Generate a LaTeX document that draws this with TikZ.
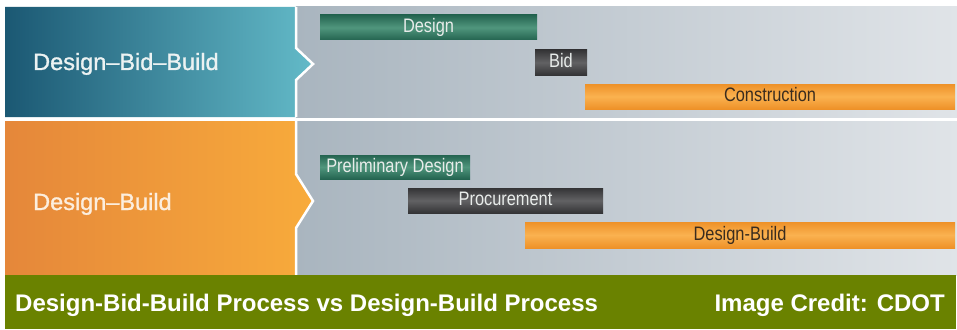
\documentclass[tikz,border=0pt]{standalone}
\usepackage{fontspec}
\setmainfont{Liberation Sans}
\newfontfamily\barfont[FakeStretch=0.84]{Liberation Sans}
\newfontfamily\methodfont[FakeBold=1.2]{Liberation Sans}
\usepackage{tikz}

\definecolor{tealL}{RGB}{27,88,115}
\definecolor{tealR}{RGB}{99,186,200}
\definecolor{orangeL}{RGB}{229,135,58}
\definecolor{orangeR}{RGB}{248,171,59}
\definecolor{panelL}{RGB}{169,181,191}
\definecolor{panelR}{RGB}{224,228,232}
\definecolor{footgreen}{RGB}{106,130,0}
\definecolor{barGreen}{RGB}{36,100,80}
\definecolor{barGreenM}{RGB}{80,150,125}
\definecolor{barGray}{RGB}{52,52,54}
\definecolor{barGrayM}{RGB}{98,98,100}
\definecolor{barOrange}{RGB}{238,145,40}
\definecolor{barOrangeM}{RGB}{250,178,80}
\definecolor{labelTop}{RGB}{236,242,242}
\definecolor{labelBot}{RGB}{252,238,222}
\definecolor{barText}{RGB}{232,236,234}
\definecolor{barTextD}{RGB}{58,44,30}

\begin{document}
\begin{tikzpicture}[x=1pt,y=1pt,yscale=-1,xscale=1,
  bar/.style={inner sep=0pt, minimum height=25pt, text height=14pt, text depth=4pt,
    font=\barfont\fontsize{19.5}{19.5}\selectfont},
  greenbar/.style={bar, top color=barGreen, bottom color=barGreen, middle color=barGreenM, text=barText},
  graybar/.style={bar, top color=barGray, bottom color=barGray, middle color=barGrayM, text=barText},
  orangebar/.style={bar, top color=barOrange, bottom color=barOrange, middle color=barOrangeM, text=barTextD},
  method/.style={anchor=base west, inner sep=0pt, font=\methodfont\fontsize{23.5}{23.5}\selectfont},
  caption/.style={inner sep=0pt, text=white, font=\bfseries\fontsize{24}{24}\selectfont}]
\useasboundingbox (0,0) rectangle (957,329);
\fill[white] (0,0) rectangle (957,329);

%Right panels
\shade[left color=panelL, right color=panelR] (296,7) rectangle (957,117);
\shade[left color=panelL, right color=panelR] (296,121) rectangle (957,275);

%Left panels with chevron
\shade[left color=tealL, right color=tealR] (5,7) -- (296,7) -- (296,48) -- (313,64) -- (296,80) -- (296,117) -- (5,117) -- cycle;
\draw[white, line width=2.5pt] (296,7) -- (296,48) -- (313,64) -- (296,80) -- (296,117);
\shade[left color=orangeL, right color=orangeR] (5,121) -- (296,121) -- (296,174) -- (313,201) -- (296,228) -- (296,275) -- (5,275) -- cycle;
\draw[white, line width=2.5pt] (296,121) -- (296,174) -- (313,201) -- (296,228) -- (296,275);

%Footer
\fill[footgreen] (5,275) rectangle (956,329);

% Text Node
\node[method, text=labelTop] (dbb) at (33,70) {Design–Bid–Build};
% Text Node
\node[method, text=labelBot] (db) at (33,210) {Design–Build};

%Bars
\node[greenbar, minimum width=217pt] (design) at (428.5,27.5) {Design};
\node[graybar, minimum width=52pt] (bid) at (561,62.5) {Bid};
\node[orangebar, minimum width=370pt] (construction) at (770,96.5) {Construction};
\node[greenbar, minimum width=150pt, minimum height=24pt] (prelim) at (395,167) {Preliminary Design};
\node[graybar, minimum width=195pt] (procurement) at (505.5,200.5) {Procurement};
\node[orangebar, minimum width=430pt, minimum height=26pt] (designbuild) at (740,235) {Design-Build};

% Text Node
\node[caption, anchor=base west] (title) at (15,311) {Design-Bid-Build Process vs Design-Build Process};
% Text Node
\node[caption, anchor=base east] (credit) at (945,311) {Image Credit: CDOT};

\end{tikzpicture}
\end{document}
